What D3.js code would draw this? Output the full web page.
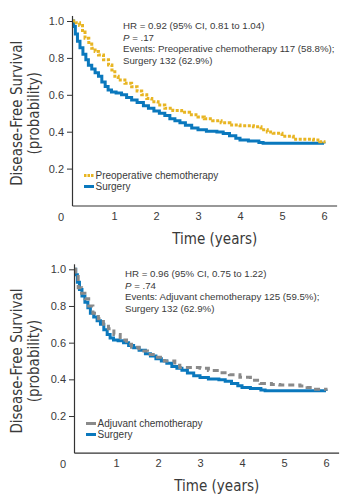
<!DOCTYPE html>
<html>
<head>
<meta charset="utf-8">
<script src="https://cdn.jsdelivr.net/npm/d3@7"></script>
<style>
  body { margin: 0; background: #fff; }
  svg text { font-family: "Liberation Sans", Arial, sans-serif; fill: #3a3a3a; }
  .title { font-family: "Liberation Sans Narrow", "Arial Narrow", "DejaVu Sans Condensed", sans-serif; }
</style>
</head>
<body>
<div id="chart"></div>
<script>
// time (years) and survival probability
var surgery = [
	[0, 1.0], [0.04, 0.97], [0.08, 0.93], [0.13, 0.89], [0.19, 0.855], [0.26, 0.82],
	[0.33, 0.79], [0.39, 0.76], [0.47, 0.74], [0.55, 0.72], [0.63, 0.70], [0.71, 0.67],
	[0.79, 0.645], [0.86, 0.626], [0.94, 0.615], [1.05, 0.61], [1.18, 0.60], [1.3, 0.585],
	[1.42, 0.572], [1.55, 0.558], [1.7, 0.54], [1.82, 0.527], [1.95, 0.512], [2.08, 0.50],
	[2.21, 0.488], [2.33, 0.47], [2.45, 0.46], [2.57, 0.449], [2.7, 0.435], [2.85, 0.42],
	[3.0, 0.41], [3.2, 0.402], [3.45, 0.398], [3.6, 0.39], [3.75, 0.378], [3.9, 0.365],
	[4.0, 0.355], [4.2, 0.35], [4.45, 0.342], [4.55, 0.338], [6.0, 0.336]
]
var preop = [
	[0, 1.0], [0.1, 0.99], [0.18, 0.975], [0.25, 0.94], [0.31, 0.906], [0.4, 0.875],
	[0.47, 0.852], [0.55, 0.835], [0.63, 0.816], [0.75, 0.79], [0.87, 0.762], [0.95, 0.735],
	[1.02, 0.70], [1.1, 0.68], [1.26, 0.662], [1.42, 0.644], [1.55, 0.62], [1.66, 0.60],
	[1.78, 0.58], [1.9, 0.563], [2.05, 0.545], [2.21, 0.527], [2.4, 0.515], [2.61, 0.505],
	[2.8, 0.492], [3.0, 0.48], [3.15, 0.47], [3.35, 0.46], [3.55, 0.448], [3.76, 0.436],
	[4.0, 0.432], [4.32, 0.427], [4.5, 0.41], [4.65, 0.398], [4.79, 0.391], [5.0, 0.375],
	[5.27, 0.359], [5.75, 0.355], [5.9, 0.345], [6.0, 0.337]
]
var adjuvant = [
	[0, 1.0], [0.04, 0.975], [0.1, 0.9], [0.18, 0.87], [0.26, 0.84], [0.35, 0.80],
	[0.45, 0.76], [0.58, 0.73], [0.7, 0.70], [0.82, 0.676], [0.95, 0.645], [1.1, 0.615],
	[1.25, 0.592], [1.37, 0.575], [1.55, 0.555], [1.75, 0.535], [1.93, 0.52], [2.15, 0.50],
	[2.4, 0.477], [2.52, 0.465], [3.0, 0.46], [3.2, 0.448], [3.48, 0.436], [3.7, 0.425],
	[3.95, 0.411], [4.2, 0.395], [4.43, 0.378], [4.7, 0.372], [4.9, 0.369], [5.38, 0.364],
	[5.55, 0.355], [5.7, 0.346], [6.0, 0.338]
]
var yTicks = [0.2, 0.4, 0.6, 0.8, 1.0]
var xTicks = [1, 2, 3, 4, 5, 6]
var topNotes = ['HR = 0.92 (95% CI, 0.81 to 1.04)', 'P = .17', 'Events: Preoperative chemotherapy 117 (58.8%);', 'Surgery 132 (62.9%)']
var bottomNotes = ['HR = 0.96 (95% CI, 0.75 to 1.22)', 'P = .74', 'Events: Adjuvant chemotherapy 125 (59.5%);', 'Surgery 132 (62.9%)']

var width = 342, height = 501
var svg = d3.select('#chart').append('svg')
	.attr('width', width)
	.attr('height', height)

var panels = [
	{left: 72, y0: 205.5, y1: 21, notes: topNotes, notesX: 123, notesY: 29,
		series: [{name: 'Preoperative chemotherapy', data: preop, color: '#e8b523', dash: '3,1.6', key: '2.5,1'},
			{name: 'Surgery', data: surgery, color: '#0a78bd', dash: null, key: null}],
		legendY: 175.5},
	{left: 74, y0: 452.7, y1: 269.3, notes: bottomNotes, notesX: 125, notesY: 277,
		series: [{name: 'Adjuvant chemotherapy', data: adjuvant, color: '#8a8a8a', dash: '6,4', key: null},
			{name: 'Surgery', data: surgery, color: '#0a78bd', dash: null, key: null}],
		legendY: 423.5}
]

panels.forEach(function(p) {
	var x = d3.scaleLinear().domain([0, 6.3]).range([p.left, p.left + 6.3 * 42])
	var unit = p.y0 - p.y1
	var y = d3.scaleLinear().domain([0, 1.03]).range([p.y0, p.y0 - 1.03 * unit])
	var g = svg.append('g')

	var line = d3.line()
		.x(function(d) { return x(d[0]) })
		.y(function(d) { return y(d[1]) })
		.curve(d3.curveStepAfter)

	p.series.slice().reverse().forEach(function(s) {
		g.append('path')
			.datum(s.data)
			.attr('d', line)
			.attr('fill', 'none')
			.attr('stroke', s.color)
			.attr('stroke-width', 3)
			.attr('stroke-dasharray', s.dash)
	})

	var yAxis = g.append('g')
		.attr('transform', 'translate(' + p.left + ',0)')
		.call(d3.axisLeft(y).tickValues(yTicks).tickFormat(d3.format('.1f')).tickSize(5).tickSizeOuter(0).tickPadding(3))
	yAxis.select('.domain').attr('stroke', '#333').attr('stroke-width', 1.2)
	yAxis.selectAll('.tick line').attr('stroke', '#333')
	yAxis.selectAll('.tick text').attr('font-size', 11).attr('font-family', null).attr('fill', '#3a3a3a')

	var xAxis = g.append('g')
		.attr('transform', 'translate(0,' + p.y0 + ')')
		.call(d3.axisBottom(x).tickValues(xTicks).tickFormat(d3.format('d')).tickSize(0).tickSizeOuter(0).tickPadding(7))
	xAxis.select('.domain').attr('stroke', '#333').attr('stroke-width', 1.2)
	xAxis.selectAll('.tick text').attr('font-size', 11).attr('font-family', null).attr('fill', '#3a3a3a')

	// corner zero label sits left of the origin
	g.append('text')
		.attr('x', x(0) - 11)
		.attr('y', p.y0 + 15.5)
		.attr('text-anchor', 'middle')
		.attr('font-size', 11)
		.text('0')

	g.append('text')
		.attr('class', 'title')
		.attr('x', x(3.4))
		.attr('y', p.y0 + 38)
		.attr('text-anchor', 'middle')
		.attr('font-size', 15)
		.text('Time (years)')

	var midY = (p.y0 + p.y1) / 2
	var yt = g.append('text')
		.attr('class', 'title')
		.attr('transform', 'translate(22,' + midY + ') rotate(-90)')
		.attr('text-anchor', 'middle')
		.attr('font-size', 15)
	yt.append('tspan').attr('x', 0).attr('dy', 0).text('Disease-Free Survival')
	yt.append('tspan').attr('x', 0).attr('dy', 17).text('(probability)')

	p.notes.forEach(function(n, i) {
		var t = g.append('text')
			.attr('x', p.notesX)
			.attr('y', p.notesY + i * 11.7)
			.attr('font-size', 9.7)
		if (n.indexOf('P = ') === 0) {
			t.append('tspan').attr('font-style', 'italic').text('P')
			t.append('tspan').text(n.slice(1))
		} else {
			t.text(n)
		}
	})

	p.series.forEach(function(s, i) {
		var ly = p.legendY + i * 11
		g.append('line')
			.attr('x1', p.left + 12).attr('x2', p.left + 22)
			.attr('y1', ly).attr('y2', ly)
			.attr('stroke', s.color)
			.attr('stroke-width', 3)
			.attr('stroke-dasharray', s.key)
		g.append('text')
			.attr('x', p.left + 23.5)
			.attr('y', ly + 3.6)
			.attr('font-size', 10)
			.text(s.name)
	})
})
</script>
</body>
</html>
